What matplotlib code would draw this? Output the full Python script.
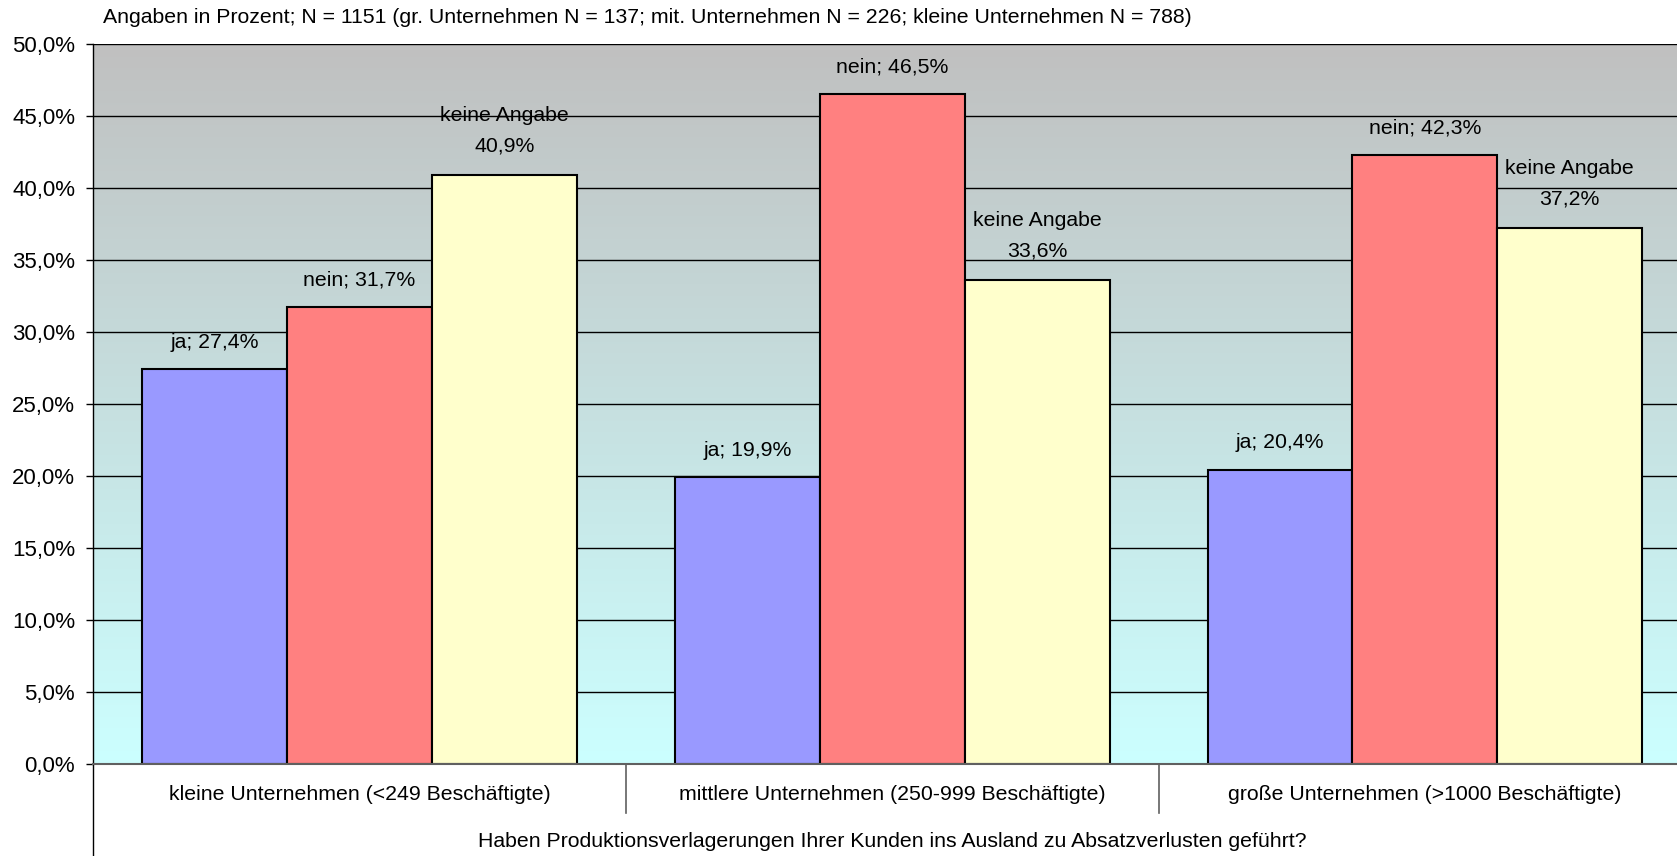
import numpy as np
import matplotlib.pyplot as plt

plt.rcParams['font.family'] = ['Liberation Sans', 'DejaVu Sans']

# data
categories = ["kleine Unternehmen (<249 Beschäftigte)",
              "mittlere Unternehmen (250-999 Beschäftigte)",
              "große Unternehmen (>1000 Beschäftigte)"]
series_names = ["ja", "nein", "keine Angabe"]
ja = [27.4, 19.9, 20.4]
nein = [31.7, 46.5, 42.3]
keine = [40.9, 33.6, 37.2]
yticks = [0, 5, 10, 15, 20, 25, 30, 35, 40, 45, 50]

colors = ["#9999FF", "#FF8080", "#FFFFCC"]
title = ("Angaben in Prozent; N = 1151 (gr. Unternehmen N = 137; "
         "mit. Unternehmen N = 226; kleine Unternehmen N = 788)")
xtitle = "Haben Produktionsverlagerungen Ihrer Kunden ins Ausland zu Absatzverlusten geführt?"
fs = 15.3

fig = plt.figure(figsize=(16.77, 8.56), dpi=100)
ax = fig.add_axes([0.0555, 0.108, 0.953, 0.841])

# gradient background: grey at top, light cyan at bottom
top_c = np.array([192, 192, 192]) / 255
bot_c = np.array([204, 255, 255]) / 255
t = np.linspace(0, 1, 256)[:, None]
grad = (top_c * (1 - t) + bot_c * t)[:, None, :]
ax.imshow(grad, extent=[0, 1, 0, 1], transform=ax.transAxes, aspect='auto', zorder=0)

x = np.arange(len(categories))
w = 0.272
for yv in yticks[1:]:
    ax.axhline(yv, color='black', lw=1.0, zorder=1)

for i, (vals, c, name) in enumerate(zip([ja, nein, keine], colors, series_names)):
    xs = x + (i - 1) * w
    ax.bar(xs, vals, width=w, color=c, edgecolor='black', linewidth=1.5, zorder=2)
    for xx, v in zip(xs, vals):
        s = f"{v:.1f}".replace(".", ",") + "%"
        if name == "keine Angabe":
            ax.annotate(name, (xx, v), xytext=(0, 59), textcoords='offset pixels',
                        ha='center', va='center', fontsize=fs, zorder=3)
            ax.annotate(s, (xx, v), xytext=(0, 29), textcoords='offset pixels',
                        ha='center', va='center', fontsize=fs, zorder=3)
        else:
            ax.annotate(f"{name}; {s}", (xx, v), xytext=(0, 27), textcoords='offset pixels',
                        ha='center', va='center', fontsize=fs, zorder=3)

ax.set_xlim(-0.5, 2.5)
ax.set_ylim(0, 50)
ax.set_yticks(yticks)
ax.set_yticklabels([f"{v:.1f}".replace(".", ",") + "%" for v in yticks], fontsize=16)
ax.tick_params(axis='y', length=5, width=1, pad=8)
ax.set_xticks([])

for sp in ['top', 'right']:
    ax.spines[sp].set_visible(False)
ax.spines['left'].set_linewidth(1.0)
ax.spines['bottom'].set_color('#606060')
ax.spines['bottom'].set_linewidth(1.5)

# category labels and separators below the axis
for xi, lab in zip(x, categories):
    ax.text(xi, -2.15, lab, ha='center', va='center', fontsize=fs)
for xs in [0.5, 1.5]:
    ax.plot([xs, xs], [0, -3.4], color='#606060', lw=1.2, clip_on=False)
ax.plot([-0.5, -0.5], [0, -6.5], color='black', lw=1.0, clip_on=False)
ax.text(1, -5.42, xtitle, ha='center', va='center', fontsize=fs)

fig.text(0.0615, 0.980, title, ha='left', va='center', fontsize=fs)

fig.savefig("out.png", dpi=100)
